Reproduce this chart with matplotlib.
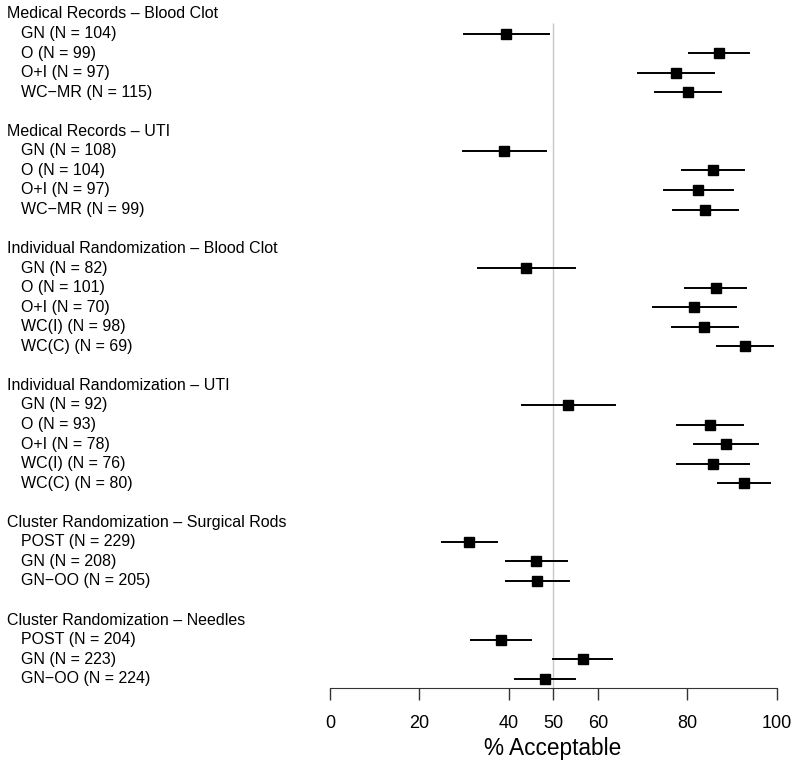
import matplotlib
matplotlib.use('Agg')
import matplotlib.pyplot as plt
import matplotlib.transforms as mtransforms

# group headers and the rows under each one
groups = [
    'Medical Records – Blood Clot',
    'Medical Records – UTI',
    'Individual Randomization – Blood Clot',
    'Individual Randomization – UTI',
    'Cluster Randomization – Surgical Rods',
    'Cluster Randomization – Needles',
]
arm_labels = [
    ['GN (N = 104)', 'O (N = 99)', 'O+I (N = 97)', 'WC−MR (N = 115)'],
    ['GN (N = 108)', 'O (N = 104)', 'O+I (N = 97)', 'WC−MR (N = 99)'],
    ['GN (N = 82)', 'O (N = 101)', 'O+I (N = 70)', 'WC(I) (N = 98)', 'WC(C) (N = 69)'],
    ['GN (N = 92)', 'O (N = 93)', 'O+I (N = 78)', 'WC(I) (N = 76)', 'WC(C) (N = 80)'],
    ['POST (N = 229)', 'GN (N = 208)', 'GN−OO (N = 205)'],
    ['POST (N = 204)', 'GN (N = 223)', 'GN−OO (N = 224)'],
]
estimates = [
    [39.5, 87.0, 77.4, 80.1],
    [38.9, 85.7, 82.4, 84.0],
    [43.9, 86.3, 81.5, 83.8, 92.9],
    [53.3, 85.1, 88.6, 85.7, 92.7],
    [31.1, 46.2, 46.3],
    [38.2, 56.6, 48.2],
]
lower = [
    [30.0, 80.3, 69.0, 72.7],
    [29.7, 78.9, 74.7, 76.7],
    [33.1, 79.4, 72.4, 76.5, 86.7],
    [43.0, 77.7, 81.4, 77.7, 86.8],
    [25.0, 39.3, 39.4],
    [31.5, 49.9, 41.5],
]
upper = [
    [49.0, 93.9, 85.9, 87.6],
    [48.3, 92.7, 90.2, 91.4],
    [54.9, 93.2, 90.8, 91.3, 99.2],
    [63.7, 92.5, 95.9, 93.7, 98.6],
    [37.3, 53.1, 53.4],
    [45.0, 63.1, 54.8],
]
xticks = [0, 20, 40, 50, 60, 80, 100]

plt.rcParams['font.family'] = ['Liberation Sans', 'DejaVu Sans']

fig = plt.figure(figsize=(8, 7.68), dpi=100)
ax = fig.add_axes([330 / 800, 1 - 687.7 / 768, 446.7 / 800, 687.7 / 768])

row_h = 19.55
ax.set_ylim((687.7 - 14) / row_h, -14 / row_h)
ax.set_xlim(0, 100)

label_tf = mtransforms.blended_transform_factory(fig.transFigure, ax.transData)

row = 0
for g, name in enumerate(groups):
    ax.text(7 / 800, row, name, transform=label_tf, ha='left', va='center', fontsize=11.5)
    row += 1
    for lab, est, lo, hi in zip(arm_labels[g], estimates[g], lower[g], upper[g]):
        ax.text(21 / 800, row, lab, transform=label_tf, ha='left', va='center', fontsize=11.5)
        ax.plot([lo, hi], [row, row], color='black', lw=1.4, clip_on=False, zorder=3)
        ax.plot(est, row, marker='s', ms=7.8, color='black', clip_on=False, zorder=4)
        row += 1
    row += 1

ax.vlines(50, 0.45, ax.get_ylim()[0], color='#c8c8c8', lw=1, zorder=1)

for side in ['top', 'left', 'right']:
    ax.spines[side].set_visible(False)
ax.spines['bottom'].set_color('#333333')
ax.spines['bottom'].set_bounds(0, 100)
ax.set_yticks([])
ax.set_xticks(xticks)
ax.set_xticklabels([str(t) for t in xticks])
ax.tick_params(axis='x', length=8.3, width=1, color='#333333', pad=11, labelsize=13)

fig.text(553 / 800, 1 - 755 / 768, '% Acceptable', ha='center', va='baseline', fontsize=16.3)

fig.savefig('out.png', dpi=100)
